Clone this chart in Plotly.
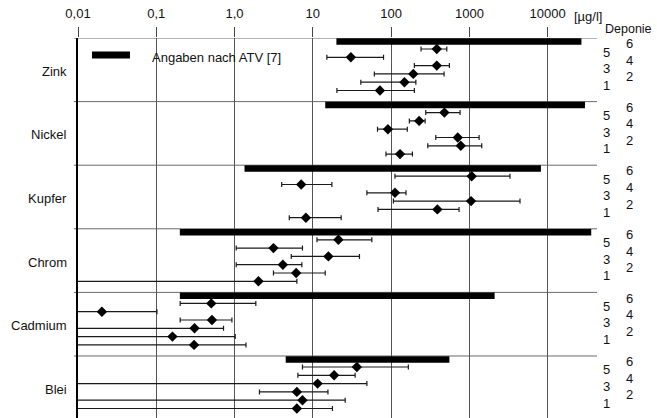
import plotly.graph_objects as go

# ---------------- data ----------------
metalle = ["Zink", "Nickel", "Kupfer", "Chrom", "Cadmium", "Blei"]
deponien = [6, 5, 4, 3, 2, 1]

# ATV ranges [µg/l]
atv_min = [20, 14.4, 1.34, 0.2, 0.2, 4.5]
atv_max = [27000, 30000, 8200, 36000, 2100, 555]

# values per Deponie (order 6,5,4,3,2,1): mean, min, max [µg/l]
zink_mittel = [383, 30.6, 383, 192, 148, 72]
zink_min = [241, 15.1, 198, 61, 41, 20.3]
zink_max = [514, 80, 555, 475, 207, 198]

nickel_mittel = [479, 228, 91, 710, 776, 130]
nickel_min = [277, 171, 67, 372, 294, 86]
nickel_max = [760, 272, 161, 1330, 1437, 187]

kupfer_mittel = [1070, 7.1, 112, 1050, 390, 8.15]
kupfer_min = [112, 4.0, 49, 107, 68, 5.0]
kupfer_max = [3300, 17.5, 155, 4430, 738, 23]

chrom_mittel = [21.2, 3.14, 15.8, 4.14, 6.12, 2.02]
chrom_min = [11.3, 1.05, 5.3, 1.05, 3.14, 0.005]
chrom_max = [56.7, 7.37, 39.4, 7.24, 14.4, 6.25]

cadmium_mittel = [0.504, 0.0202, 0.514, 0.308, 0.161, 0.304]
cadmium_min = [0.202, 0.005, 0.202, 0.005, 0.005, 0.005]
cadmium_max = [1.87, 0.102, 0.925, 0.723, 1.02, 1.40]

blei_mittel = [36.5, 18.7, 11.5, 6.25, 7.37, 6.25]
blei_min = [7.37, 6.44, 0.005, 2.08, 0.005, 0.005]
blei_max = [166, 34.7, 49, 15.6, 25.9, 17.8]

tick_werte = [0.01, 0.1, 1, 10, 100, 1000, 10000]
tick_texte = ["0,01", "0,1", "1,0", "10", "100", "1000", "10000"]

mittel = [zink_mittel, nickel_mittel, kupfer_mittel, chrom_mittel, cadmium_mittel, blei_mittel]
minima = [zink_min, nickel_min, kupfer_min, chrom_min, cadmium_min, blei_min]
maxima = [zink_max, nickel_max, kupfer_max, chrom_max, cadmium_max, blei_max]

# ---------------- layout constants ----------------
ROW_PX = 63.6
BAR_OFF = 3.4 / ROW_PX


def pt_off(d):
    return (11.0 + 8.3 * (6 - d)) / ROW_PX


def lab_off(d):
    return (11.0 + 8.3 * (6 - d) - 5.3) / ROW_PX


FONT = "Liberation Sans, Arial, Helvetica, sans-serif"
INK = "#111111"

fig = go.Figure()

for i, m in enumerate(metalle):
    # ATV bar
    fig.add_trace(go.Scatter(
        x=[atv_min[i], atv_max[i]], y=[i + BAR_OFF, i + BAR_OFF],
        mode="lines", line=dict(color="#000000", width=6.5),
        showlegend=False, hoverinfo="skip"))
    ys = [i + pt_off(d) for d in deponien]
    plus = [hi - v for hi, v in zip(maxima[i], mittel[i])]
    minus = [v - lo for lo, v in zip(minima[i], mittel[i])]
    fig.add_trace(go.Scatter(
        x=mittel[i], y=ys, mode="markers",
        marker=dict(symbol="diamond", size=8, color="#000000"),
        error_x=dict(type="data", symmetric=False, array=plus, arrayminus=minus,
                     color="#1a1a1a", thickness=1.2, width=2.5),
        showlegend=False, name=m))

annotations = []
for i, m in enumerate(metalle):
    annotations.append(dict(
        x=-0.0173, xref="paper", y=i + 0.525, yref="y", text=m,
        showarrow=False, xanchor="right", yanchor="middle",
        font=dict(family=FONT, size=13, color=INK)))
    for d in deponien:
        xpx = 606.5 if d % 2 == 1 else 629.5
        annotations.append(dict(
            x=(xpx - 78) / 519, xref="paper", y=i + lab_off(d), yref="y",
            text=str(d), showarrow=False, xanchor="center", yanchor="middle",
            borderpad=0,
            font=dict(family=FONT, size=13, color=INK)))

annotations.append(dict(
    x=(628 - 78) / 519, xref="paper", y=(418 - 29) / 380, yref="paper",
    text="Deponie", showarrow=False, xanchor="center", yanchor="middle",
    borderpad=0,
    font=dict(family=FONT, size=12.5, color=INK)))
annotations.append(dict(
    x=(572 - 78) / 519, xref="paper", y=(418 - 16) / 380, yref="paper",
    text="[µg/l]", showarrow=False, xanchor="left", yanchor="middle",
    font=dict(family=FONT, size=13, color=INK)))
annotations.append(dict(
    x=(150 - 78) / 519, xref="paper", y=(418 - 57) / 380, yref="paper",
    text="Angaben nach ATV [7]", showarrow=False, xanchor="left", yanchor="middle",
    font=dict(family=FONT, size=13, color=INK)))

shapes = [dict(type="line", xref="paper", yref="paper",
               x0=(92 - 78) / 519, x1=(130 - 78) / 519,
               y0=(418 - 55) / 380, y1=(418 - 55) / 380,
               line=dict(color="#000000", width=7))]
# row dividers extending slightly left of the axis
for k in range(0, 6):
    shapes.append(dict(type="line", xref="paper", yref="y",
                       x0=-0.008, x1=1.0, y0=k, y1=k,
                       line=dict(color="#6a6a6a", width=1), layer="below"))

fig.update_layout(
    width=657, height=418,
    margin=dict(l=78, r=60, t=38, b=0, pad=0),
    paper_bgcolor="white", plot_bgcolor="white",
    font=dict(family=FONT, size=13, color=INK),
    annotations=annotations, shapes=shapes,
    xaxis=dict(type="log", range=[-2, 4.63], side="top",
               tickvals=tick_werte, ticktext=tick_texte,
               ticks="outside", ticklen=10, tickcolor="#444", tickwidth=1,
               showgrid=True, gridcolor="#555", gridwidth=1,
               showline=False, zeroline=False,
               ticklabelstandoff=4,
               tickfont=dict(family=FONT, size=13, color=INK)),
    yaxis=dict(range=[5.975, 0], showticklabels=False, showgrid=False,
               zeroline=False, showline=True, linecolor="#000", linewidth=1.5,
               ticks=""),
)

fig.write_html("out.html")
